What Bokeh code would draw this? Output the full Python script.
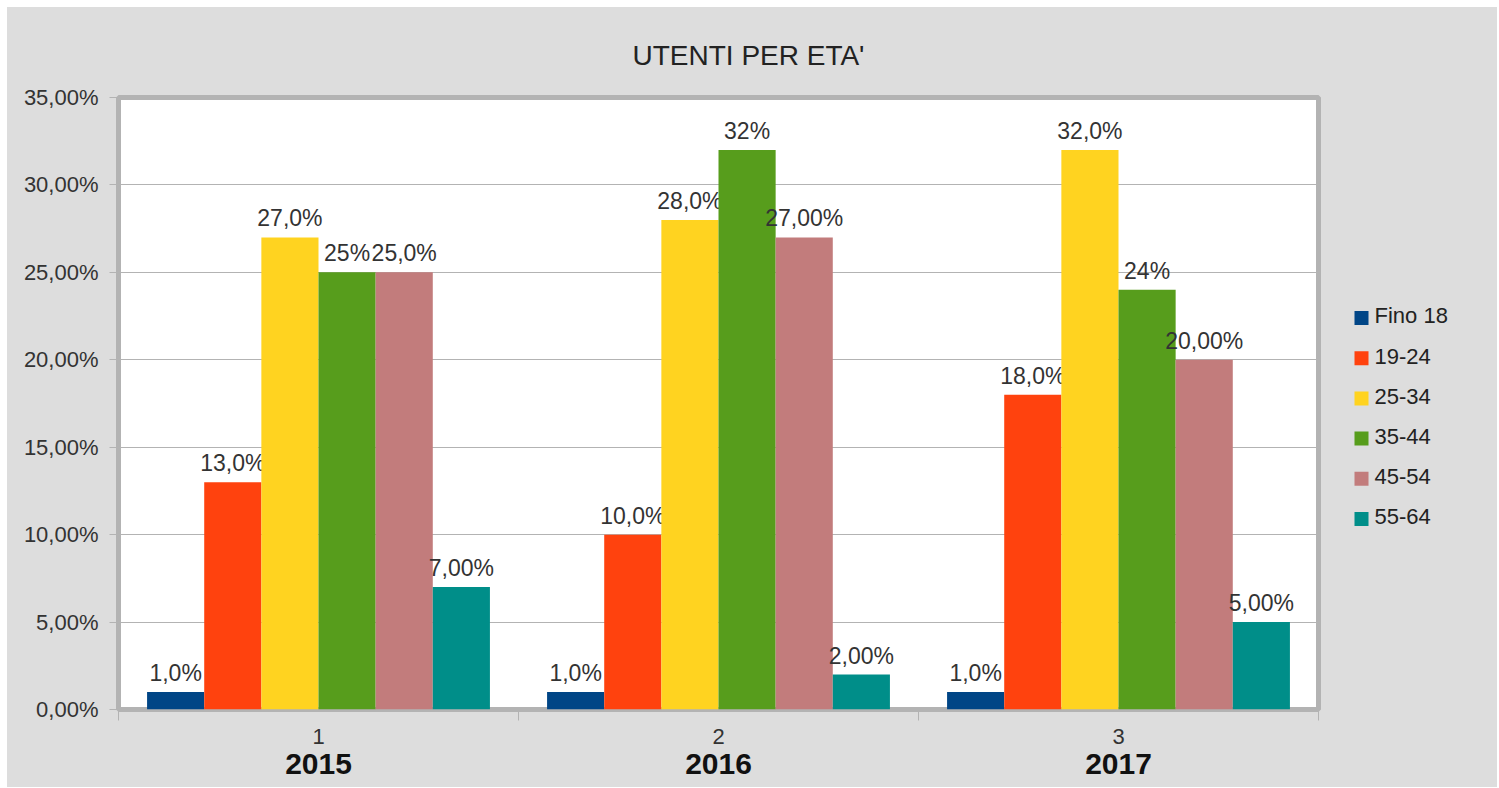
from bokeh.plotting import figure
from bokeh.models import (Range1d, FixedTicker, LinearAxis, ColumnDataSource, Spacer)
from bokeh.layouts import column, row
from bokeh.core.properties import value
from bokeh.embed import file_html
from bokeh.resources import INLINE

# ---- data ----
groups = [1, 2, 3]
group_labels = ["1", "2", "3"]
years = ["2015", "2016", "2017"]
series = ["Fino 18", "19-24", "25-34", "35-44", "45-54", "55-64"]
colors = ["#004586", "#ff420e", "#ffd320", "#579d1c", "#c27c7c", "#008e89"]
fino_18 = [1, 1, 1]
eta_19_24 = [13, 10, 18]
eta_25_34 = [27, 28, 32]
eta_35_44 = [25, 32, 24]
eta_45_54 = [25, 27, 20]
eta_55_64 = [7, 2, 5]
values = [fino_18, eta_19_24, eta_25_34, eta_35_44, eta_45_54, eta_55_64]
lbl_fino_18 = ["1,0%", "1,0%", "1,0%"]
lbl_19_24 = ["13,0%", "10,0%", "18,0%"]
lbl_25_34 = ["27,0%", "28,0%", "32,0%"]
lbl_35_44 = ["25%", "32%", "24%"]
lbl_45_54 = ["25,0%", "27,00%", "20,00%"]
lbl_55_64 = ["7,00%", "2,00%", "5,00%"]
labels = [lbl_fino_18, lbl_19_24, lbl_25_34, lbl_35_44, lbl_45_54, lbl_55_64]
y_ticks = [0, 5, 10, 15, 20, 25, 30, 35]
y_tick_labels = ["0,00%", "5,00%", "10,00%", "15,00%", "20,00%", "25,00%", "30,00%", "35,00%"]
title_text = "UTENTI PER ETA'"

FONT = "Liberation Sans"
GRAY = "#b3b3b3"
BG = "#dddddd"

p = figure(width=1317, height=780, output_backend="svg", toolbar_location=None,
           x_range=Range1d(0.5, 3.5), y_range=Range1d(0, 35),
           min_border_left=111, min_border_top=90, min_border_right=6,
           min_border_bottom=78, x_axis_type=None)
p.border_fill_color = BG
p.background_fill_color = "white"
p.outline_line_color = GRAY
p.outline_line_width = 5

p.title.text = title_text
p.title.text_font = FONT
p.title.text_font_size = "28px"
p.title.text_font_style = "normal"
p.title.text_color = "#222222"
p.title.align = "left"
p.title.offset = 514
p.title.standoff = 54

# y axis
ya = p.yaxis[0]
ya.ticker = FixedTicker(ticks=y_ticks)
ya.major_label_overrides = {t: l for t, l in zip(y_ticks, y_tick_labels)}
ya.axis_line_color = None
ya.major_tick_line_color = GRAY
ya.major_tick_out = 9
ya.major_tick_in = 0
ya.minor_tick_line_color = None
ya.major_label_text_font = FONT
ya.major_label_text_font_size = "22px"
ya.major_label_text_color = "#333333"
ya.major_label_standoff = 11
p.ygrid.ticker = FixedTicker(ticks=y_ticks)
p.ygrid.grid_line_color = GRAY
p.ygrid.grid_line_width = 1
p.xgrid.grid_line_color = None

# x axes
xa = LinearAxis(ticker=FixedTicker(ticks=groups, minor_ticks=[0.5, 1.5, 2.5, 3.5]))
xa.major_label_overrides = {g: l for g, l in zip(groups, group_labels)}
xa.axis_line_color = None
xa.major_tick_line_color = None
xa.major_tick_out = 0
xa.major_tick_in = 0
xa.minor_tick_line_color = GRAY
xa.minor_tick_out = 11
xa.minor_tick_in = 0
xa.major_label_text_font = FONT
xa.major_label_text_font_size = "22px"
xa.major_label_text_color = "#333333"
xa.major_label_standoff = 8
p.add_layout(xa, "below")

xb = LinearAxis(ticker=FixedTicker(ticks=groups))
xb.major_label_overrides = {g: y for g, y in zip(groups, years)}
xb.axis_line_color = None
xb.major_tick_line_color = None
xb.major_tick_out = 0
xb.major_tick_in = 0
xb.minor_tick_line_color = None
xb.major_label_text_font = FONT
xb.major_label_text_font_size = "30px"
xb.major_label_text_font_style = "bold"
xb.major_label_text_color = "#111111"
xb.major_label_standoff = 7
p.add_layout(xb, "below")

# bars
bw = 1.0 / 7
for j, (name, col, vals, lbls) in enumerate(zip(series, colors, values, labels)):
    xs = [g + (j - 2.5) * bw for g in groups]
    src = ColumnDataSource(dict(x=xs, top=vals, lbl=lbls))
    p.vbar(x="x", top="top", width=bw, source=src, fill_color=col,
           line_color=None)
    p.text(x="x", y="top", text="lbl", source=src, text_align="center",
           text_baseline="alphabetic", y_offset=-19,
           text_font=value(FONT), text_font_size="23px", text_color="#333333")

# legend: its own grey panel to the right of the chart
pl = figure(width=173, height=780, output_backend="svg", toolbar_location=None,
            x_range=Range1d(0, 173), y_range=Range1d(9.739, -5.485),
            x_axis_type=None, y_axis_type=None,
            min_border_left=0, min_border_right=0, min_border_top=0,
            min_border_bottom=0)
pl.border_fill_color = None
pl.background_fill_color = None
pl.outline_line_color = None
rows_idx = list(range(len(series)))
lsrc = ColumnDataSource(dict(y=rows_idx, name=series, color=colors))
pl.scatter(x=37, y="y", marker="square", size=14, fill_color="color",
           line_color=None, source=lsrc)
pl.text(x=50, y="y", text="name", source=lsrc, text_baseline="middle",
        text_align="left", text_font=value(FONT), text_font_size="22px",
        text_color="#222222", y_offset=-2)

chart = row(p, pl, styles={"background-color": BG})
layout = column(Spacer(height=7), row(Spacer(width=7), chart))
open("out.html", "w").write(file_html(layout, INLINE))
